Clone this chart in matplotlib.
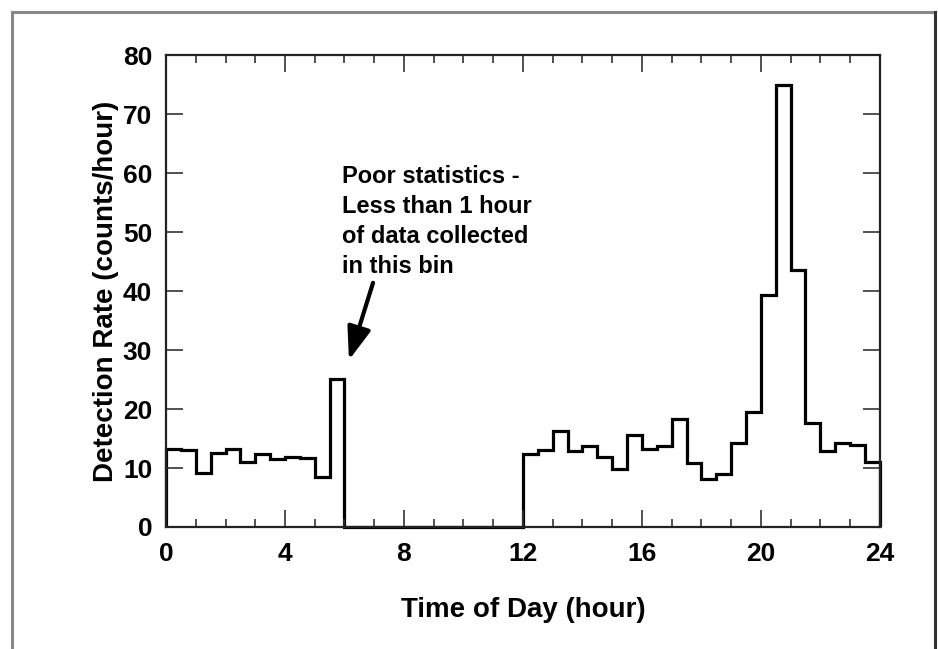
import numpy as np
import matplotlib
matplotlib.use("Agg")
import matplotlib.pyplot as plt
from matplotlib.lines import Line2D
from matplotlib.ticker import MultipleLocator

# =====================================
# DATA
# =====================================

bin_width = 0.5
bin_edges = np.arange(0, 24 + bin_width, bin_width)

# counts/hour per half-hour bin, 0:00 -> 24:00
rates = [
    13.2, 13.0, 9.1, 12.5, 13.2, 11.1, 12.4, 11.5, 11.9, 11.7, 8.4, 25.1,
    0, 0, 0, 0, 0, 0, 0, 0, 0, 0, 0, 0,
    12.3, 13.0, 16.3, 12.8, 13.8, 11.9, 9.8, 15.6, 13.2, 13.8, 18.3, 10.8,
    8.2, 8.9, 14.2, 19.5, 39.3, 75.0, 43.5, 17.6, 12.9, 14.3, 13.9, 11.0,
]

x_ticks = [0, 4, 8, 12, 16, 20, 24]
y_ticks = [0, 10, 20, 30, 40, 50, 60, 70, 80]

note = "Poor statistics -\nLess than 1 hour\nof data collected\nin this bin"

# =====================================
# FIGURE
# =====================================

plt.rcParams["font.family"] = ["Liberation Sans", "DejaVu Sans"]
plt.rcParams["font.weight"] = "bold"

fig = plt.figure(figsize=(9.38, 6.49), dpi=100)
ax = fig.add_axes([0.177, 0.188, 0.761, 0.727])

ax.stairs(rates, bin_edges, color="black", linewidth=2.3, clip_on=False)

ax.set_xlim(0, 24)
ax.set_ylim(0, 80)
ax.set_xticks(x_ticks)
ax.set_yticks(y_ticks)
ax.xaxis.set_minor_locator(MultipleLocator(1))

ax.tick_params(which="both", direction="in", top=True, right=True,
               labelsize=19, width=1.2, color="#333333")
ax.tick_params(axis="x", which="major", length=12, pad=11)
ax.tick_params(axis="y", which="major", length=12, pad=10)
ax.tick_params(which="minor", length=6)
for lbl in ax.get_xticklabels() + ax.get_yticklabels():
    lbl.set_fontweight("bold")

for s in ax.spines.values():
    s.set_linewidth(1.6)
    s.set_color("#222222")

ax.set_xlabel("Time of Day (hour)", fontsize=20, fontweight="bold", labelpad=22)
ax.set_ylabel("Detection Rate (counts/hour)", fontsize=20, fontweight="bold",
              labelpad=3)

# annotation
ax.text(5.9, 61.3, note, fontsize=17, fontweight="bold", ha="left", va="top",
        linespacing=1.38)
ax.annotate("", xy=(6.15, 28.3), xytext=(6.96, 41.4),
            arrowprops=dict(arrowstyle="-|>,head_length=1.0,head_width=0.36",
                            mutation_scale=20, color="black", lw=3,
                            shrinkA=0, shrinkB=0))

# outer frame
fig.add_artist(Line2D([0.013, 0.013], [0.0, 0.982], color="#888888", lw=2.2))
fig.add_artist(Line2D([0.013, 0.997], [0.982, 0.982], color="#888888", lw=2.2))
fig.add_artist(Line2D([0.997, 0.997], [0.0, 0.982], color="#333333", lw=2.2))

fig.savefig("out.png", dpi=100)
